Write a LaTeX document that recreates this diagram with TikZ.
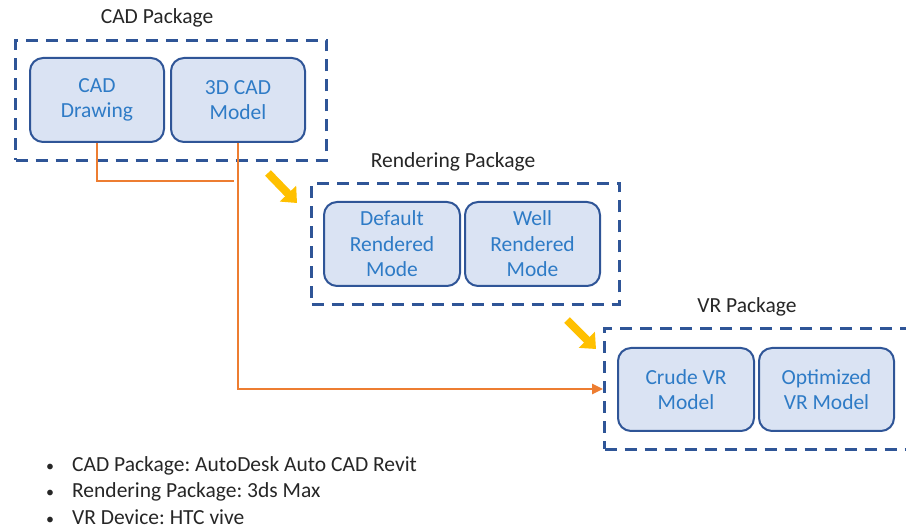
\documentclass[tikz,border=0pt]{standalone}
\usepackage{fontspec}
\setmainfont{Carlito}
\usetikzlibrary{arrows.meta}
\definecolor{pkgblue}{HTML}{2F5597}
\definecolor{boxfill}{HTML}{DAE3F3}
\definecolor{boxline}{HTML}{2F5597}
\definecolor{txtblue}{HTML}{2E7BC6}
\definecolor{orng}{HTML}{ED7D31}
\definecolor{yel}{HTML}{FFC000}
\definecolor{dark}{HTML}{262626}
\tikzset{
  pkg/.style={draw=pkgblue, line width=3pt, dash pattern=on 12pt off 8pt, anchor=north west, inner sep=0pt},
  modbox/.style={draw=boxline, fill=boxfill, line width=2pt, rounded corners=13pt, anchor=north west,
    minimum width=134pt, minimum height=84pt, inner sep=0pt, align=center, text=txtblue,
    font=\fontsize{21.5}{25.5}\selectfont},
  pkgtitle/.style={text=dark, font=\fontsize{21.5}{24}\selectfont, inner sep=0pt},
  flow/.style={draw=orng, line width=2.5pt, -{Triangle[length=11pt,width=10pt]}},
  flowplain/.style={draw=orng, line width=2.5pt},
  bigarrow/.style={draw=yel, line width=8pt, -{Triangle[length=13pt,width=22pt]}},
  bullet/.style={text=dark, font=\frenchspacing\fontsize{21.5}{22}\selectfont, anchor=west, inner sep=0pt}
}
\begin{document}
\begin{tikzpicture}[x=1pt,y=-1pt]
\useasboundingbox (0,0) rectangle (906,529);
% packages
\node[pkg, minimum width=311pt, minimum height=120pt] (cadpkg) at (14,39) {};
\node[pkg, minimum width=308pt, minimum height=121pt] (renpkg) at (310,182) {};
\node[pkg, minimum width=303pt, minimum height=121pt] (vrpkg) at (603,327) {};
\node[pkgtitle] (cadt) at (157,18) {CAD Package};
\node[pkgtitle] (rent) at (453,162) {Rendering Package};
\node[pkgtitle] (vrt) at (747,307) {VR Package};
% model boxes
\node[modbox] (cd) at (29,57) {CAD\\Drawing};
\node[modbox] (m3d) at (170,57) {3D CAD\\Model};
\node[modbox, minimum width=136pt] (drm) at (323,201) {Default\\Rendered\\Mode};
\node[modbox, minimum width=135pt] (wrm) at (464,201) {Well\\Rendered\\Mode};
\node[modbox, minimum width=136pt, minimum height=83pt] (cvr) at (617,347) {Crude VR\\Model};
\node[modbox, minimum width=135pt, minimum height=83pt] (ovr) at (758,347) {Optimized\\VR Model};
% orange connectors
\coordinate (j1) at (234,181);
\draw[flowplain] (cd.south) |- (j1);
\draw[flow] (m3d.south) |- (vrpkg.west);
% yellow arrows
\coordinate (y1a) at (268,173);
\coordinate (y1b) at (297,203);
\coordinate (y2a) at (567,320);
\coordinate (y2b) at (596,349);
\draw[bigarrow] (y1a) -- (y1b);
\draw[bigarrow] (y2a) -- (y2b);
% bullets
\node[bullet] (b1) at (46,466) {{\fontsize{16}{16}\selectfont\textbullet}\hspace{18pt}CAD Package: AutoDesk Auto CAD Revit};
\node[bullet] (b2) at (46,492) {{\fontsize{16}{16}\selectfont\textbullet}\hspace{18pt}Rendering Package: 3ds Max};
\node[bullet] (b3) at (46,517) {{\fontsize{16}{16}\selectfont\textbullet}\hspace{18pt}VR Device: HTC vive};
\end{tikzpicture}
\end{document}
